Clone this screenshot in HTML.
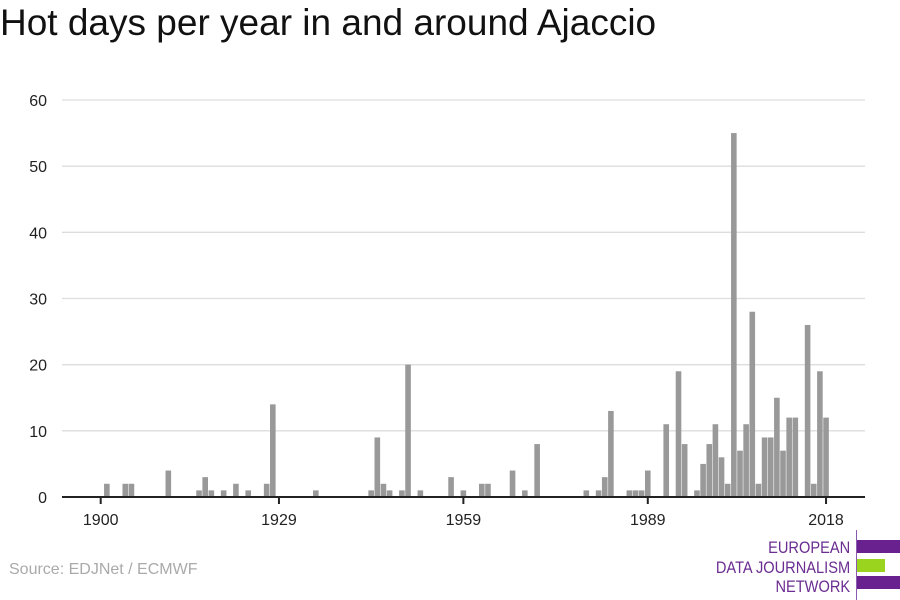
<!DOCTYPE html>
<html><head><meta charset="utf-8"><style>
body{margin:0;width:900px;height:600px;background:#fff;font-family:"Liberation Sans",sans-serif;overflow:hidden;position:relative}
</style></head><body>
<div style="position:absolute;left:0;top:2px;font-size:37px;color:#111;white-space:nowrap;">Hot days per year in and around Ajaccio</div>
<svg id="chart" width="900" height="600" style="position:absolute;left:0;top:0"></svg>
<div style="position:absolute;left:9px;top:561px;font-size:16px;color:#aaa;">Source: EDJNet / ECMWF</div>
<div style="position:absolute;left:700px;top:530px;width:200px;height:70px;">
 <div style="position:absolute;right:50px;top:8px;text-align:right;font-size:17px;line-height:19.5px;color:#6a2d91;white-space:nowrap;transform:scaleX(0.86);transform-origin:right top;">EUROPEAN<br>DATA JOURNALISM<br>NETWORK</div>
 <div style="position:absolute;left:156px;top:0;width:1px;height:70px;background:#8a5bb0"></div>
 <div style="position:absolute;left:157px;top:10px;width:43px;height:13px;background:#6a2190"></div>
 <div style="position:absolute;left:157px;top:29px;width:28px;height:13px;background:#9bd41e"></div>
 <div style="position:absolute;left:157px;top:46px;width:43px;height:13px;background:#6a2190"></div>
</div>
<script>
const years=[1901,1904,1905,1911,1916,1917,1918,1920,1922,1924,1927,1928,1935,1944,1945,1946,1947,1949,1950,1952,1957,1959,1962,1963,1967,1969,1971,1979,1981,1982,1983,1986,1987,1988,1989,1992,1994,1995,1997,1998,1999,2000,2001,2002,2003,2004,2005,2006,2007,2008,2009,2010,2011,2012,2013,2015,2016,2017,2018];
const values=[2,2,2,4,1,3,1,1,2,1,2,14,1,1,9,2,1,1,20,1,3,1,2,2,4,1,8,1,1,3,13,1,1,1,4,11,19,8,1,5,8,11,6,2,55,7,11,28,2,9,9,15,7,12,12,26,2,19,12];
const yTicks=[0,10,20,30,40,50,60];
const xTicks=[1900,1929,1959,1989,2018];
const NS="http://www.w3.org/2000/svg";
const svg=document.getElementById('chart');
const x=y=>100.7+(y-1900)*6.147;
const yS=v=>497-v*(397/60);
function mk(t,a){const e=document.createElementNS(NS,t);for(const k in a)e.setAttribute(k,a[k]);svg.appendChild(e);return e;}
yTicks.forEach(v=>{
 if(v>0){const g=mk('line',{x1:62,x2:865,y1:yS(v),y2:yS(v),stroke:'#ddd','stroke-width':1.3});
 
 }
 const t=mk('text',{x:47,y:yS(v)+6,'text-anchor':'end','font-size':16,fill:'#222','font-family':'Liberation Sans'});
 t.textContent=v;
 
 
});
years.forEach((yr,i)=>{
 const r=mk('rect',{x:x(yr)-2.8,y:yS(values[i]),width:5.6,height:497-yS(values[i]),fill:'#999'});
 
 
});
const ax=mk('line',{x1:62,x2:865,y1:497,y2:497,stroke:'#222','stroke-width':2});


xTicks.forEach(yr=>{
 const tk=mk('line',{x1:x(yr),x2:x(yr),y1:497,y2:504,stroke:'#222','stroke-width':2});
 
 
 const t=mk('text',{x:x(yr),y:525,'text-anchor':'middle','font-size':16,fill:'#222','font-family':'Liberation Sans'});
 t.textContent=yr;
 
 
});
</script>
</body></html>
